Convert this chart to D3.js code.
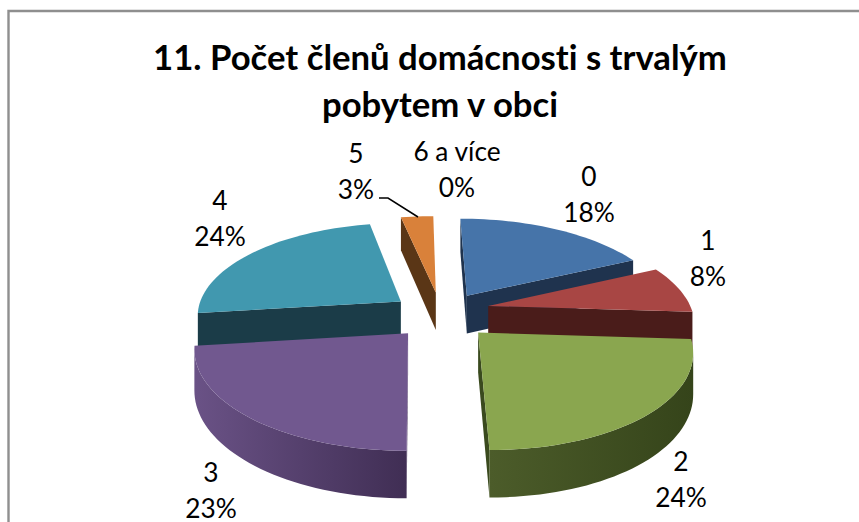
<!DOCTYPE html>
<html><head><meta charset="utf-8">
<script src="https://cdnjs.cloudflare.com/ajax/libs/d3/7.8.5/d3.min.js"></script>
<style>html,body{margin:0;padding:0;background:#fff}svg{display:block}text{font-family:Lato,"Noto Sans",sans-serif;fill:#000;font-variant-ligatures:none}</style>
</head><body><svg id="c" width="859" height="522"></svg>
<script>
const titleLines = ["11. Počet členů domácnosti s trvalým", "pobytem v obci"];
const categories = ["0", "1", "2", "3", "4", "5", "6 a více"];
const values = [18, 8, 24, 23, 24, 3, 0];
const topColors = ["#4674a9", "#a84644", "#8aa64f", "#71588f", "#4198af", "#d9813a", "#93a9cf"];
const wallColors = ["#1f334e", "#4a1c1a", "#3a4a1e", "#4a3560", "#1b3c48", "#5a3616", "#3a4a60"];
const wallLight = ["#1f334e", "#4a1c1a", "#4c5c2a", "#6a5286", "#1b3c48", "#5a3616", "#3a4a60"];
const wallDark = ["#1f334e", "#4a1c1a", "#35441a", "#402e54", "#1b3c48", "#5a3616", "#3a4a60"];
const labelAnchors = [[589,176],[708,240],[681,461],[211,472],[220,200],[356,153],[457,151]];
const explodeTweak = [[-.01,0],[-.02,-.05],[-.008,0],[-.004,0],[-.005,0],[-.008,0],[0,0]];

const svg = d3.select("#c");
const defs = svg.append("defs");
// frame
svg.append("path").attr("d","M8.5 522V11H859").attr("fill","none").attr("stroke","#8f8f8f").attr("stroke-width",2.4);

// title
svg.selectAll("text.title").data(titleLines).join("text").attr("class","title")
  .attr("x",440).attr("y",(d,i)=>70+i*47).attr("text-anchor","middle")
  .attr("font-weight",700).attr("font-size",34.7).text(d=>d);

// perspective projection of the pie's plane
const cx=443, cy=315, vx=416, k=0.15, Rx=205, Ry=94, depth0=39, explode=0.25;
const project=(u,v)=>{const w=1-k*v;return [vx+(cx-vx+Rx*u)/w, cy+Ry*v/w, depth0/w];};
const dir=a=>[Math.sin(a),-Math.cos(a)];

const pie=d3.pie().sort(null).value(d=>d)(values);
const slices=pie.map((p,i)=>{
  const mid=(p.startAngle+p.endAngle)/2, e=dir(mid);
  const o=[e[0]*explode+explodeTweak[i][0],e[1]*explode+explodeTweak[i][1]];
  const pts=[];
  const n=Math.max(2,Math.ceil((p.endAngle-p.startAngle)/(Math.PI/90)));
  const t=d3.scaleLinear().domain([0,n]).range([p.startAngle,p.endAngle]);
  pts.push({p:project(o[0],o[1]),arc:false});
  d3.range(n+1).forEach(j=>{
    const d=dir(t(j));
    pts.push({p:project(o[0]+d[0],o[1]+d[1]),arc:true});
  });
  return {i,pts,value:p.value};
}).filter(s=>s.value>0);

const paintOrder=[5,0,4,1,3,2];
const line=d3.line();
paintOrder.forEach(idx=>{
  const s=slices.find(x=>x.i===idx); if(!s) return;
  const g=svg.append("g");
  const P=s.pts, N=P.length;
  const arcFront=[];
  for(let j=0;j<N;j++){
    const a=P[j], b=P[(j+1)%N];
    if(b.p[0]-a.p[0]>=0) continue;           // faces away from the viewer
    if(a.arc&&b.arc){ if(!arcFront.length) arcFront.push(a); arcFront.push(b); continue; }
    const q=[[a.p[0],a.p[1]],[b.p[0],b.p[1]],[b.p[0],b.p[1]+b.p[2]],[a.p[0],a.p[1]+a.p[2]]];
    g.append("path").attr("d",line(q)+"Z").attr("fill",wallColors[idx]);
  }
  if(arcFront.length){
    const xs=arcFront.map(q=>q.p[0]);
    const id="w"+idx;
    const gr=defs.append("linearGradient").attr("id",id).attr("gradientUnits","userSpaceOnUse")
      .attr("x1",d3.min(xs)).attr("x2",d3.max(xs)).attr("y1",0).attr("y2",0);
    gr.append("stop").attr("offset",0).attr("stop-color",wallLight[idx]);
    gr.append("stop").attr("offset",1).attr("stop-color",wallDark[idx]);
    const q=arcFront.map(q=>[q.p[0],q.p[1]]).concat(arcFront.slice().reverse().map(q=>[q.p[0],q.p[1]+q.p[2]]));
    g.append("path").attr("d",line(q)+"Z").attr("fill",`url(#${id})`);
  }
  g.append("path").attr("d",line(P.map(q=>[q.p[0],q.p[1]]))+"Z").attr("fill",topColors[idx]);
});

// leader line for "5"
svg.append("path").attr("d",d3.line()([[379,198],[388,198],[418,217]])).attr("fill","none").attr("stroke","#000").attr("stroke-width",1.5);

// labels
categories.forEach((c,i)=>{
  const [x,y]=labelAnchors[i];
  const t=svg.append("text").attr("text-anchor","middle").attr("font-size",26.3);
  t.append("tspan").attr("x",x).attr("y",y+9.5).text(c);
  t.append("tspan").attr("x",x).attr("y",y+45.5).text(values[i]+"%");
});
</script></body></html>
